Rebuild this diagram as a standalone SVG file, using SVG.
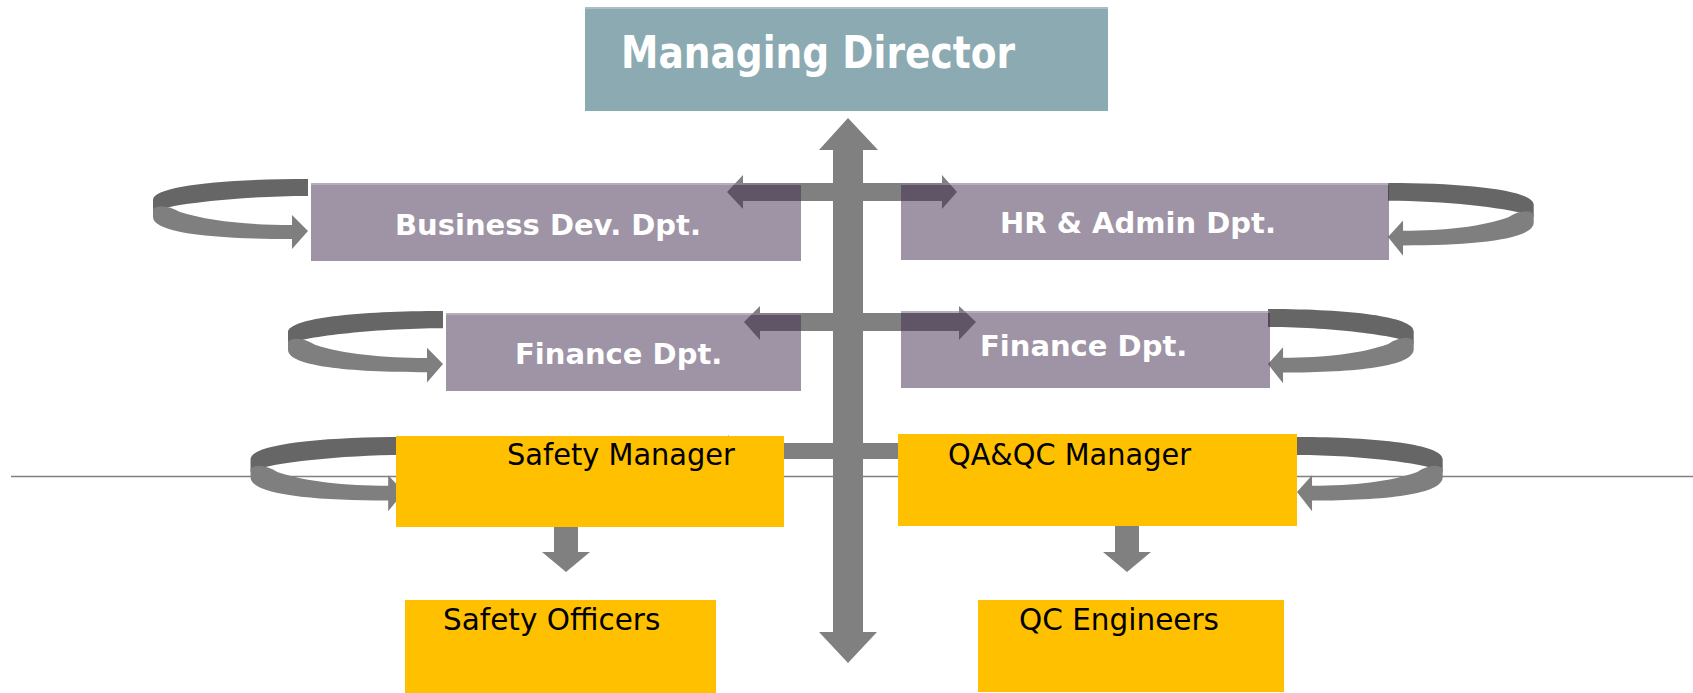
<svg xmlns="http://www.w3.org/2000/svg" xmlns:xlink="http://www.w3.org/1999/xlink" width="1693" height="693" viewBox="0 0 1693 693">
<style>
.purple{fill:#3d294b;fill-opacity:0.5}
.teal{fill:#8caab2}
.yellow{fill:#ffc000}
.topline{stroke:#ffffff;stroke-opacity:0.25;stroke-width:2}
.bar{fill:#808080}
.dark{fill:#666666}
.light{fill:#7f7f7f}
.tb{font-family:"DejaVu Sans","Liberation Sans",sans-serif;font-weight:bold;fill:#ffffff;font-size:29px}
.tmd{font-family:"DejaVu Sans Condensed","DejaVu Sans","Liberation Sans",sans-serif;font-weight:bold;fill:#ffffff;font-size:44px}
.tr{font-family:"DejaVu Sans","Liberation Sans",sans-serif;fill:#000000;font-size:29.5px}
</style>
<defs>
<g id="loopL">
<path class="dark" d="M0,0 C-85,0 -155,7 -155,21 L-155,33 C-145,26 -70,17 0,17 Z"/>
<path class="light" d="M-155,30 C-150,25 -138,27 -128,33 C-100,42 -60,46 -16,46 L-16,36 L0,52 L-16,70 L-16,60 C-95,60 -155,54 -155,38 Z"/>
</g>
</defs>
<rect x="0" y="0" width="1693" height="693" fill="#ffffff"/>
<g id="connectors">
<line x1="11" y1="476.5" x2="1693" y2="476.5" stroke="#808080" stroke-width="1.5"/>
<polygon class="bar" points="848,118 878,150 863,150 863,632 877,632 848,663 819,632 833,632 833,150 819,150"/>
<polygon class="bar" points="727,192 743,175 743,183 942,183 942,175 957,192 942,209 942,201 743,201 743,209"/>
<polygon class="bar" points="744,322 760,306 760,313 959,313 959,306 976,322 959,340 959,331 760,331 760,340"/>
<polygon class="bar" points="713,451 729,435 729,443 960,443 960,435 975,451 960,467 960,459 729,459 729,467"/>
<polygon class="bar" points="554,520 578,520 578,552 590,552 566,572 542,552 554,552"/>
<polygon class="bar" points="1115,520 1139,520 1139,552 1151,552 1127,572 1103,552 1115,552"/>
<use xlink:href="#loopL" href="#loopL" transform="translate(308,179)"/>
<use xlink:href="#loopL" href="#loopL" transform="translate(443,311) scale(1,1.02)"/>
<use xlink:href="#loopL" href="#loopL" transform="translate(404,437) scale(0.99,1.06)"/>
<use xlink:href="#loopL" href="#loopL" transform="translate(1388,183) scale(-0.94,1.04)"/>
<use xlink:href="#loopL" href="#loopL" transform="translate(1268,309) scale(-0.94,1.06)"/>
<use xlink:href="#loopL" href="#loopL" transform="translate(1297,437) scale(-0.94,1.06)"/>
</g>
<g id="md">
<rect class="teal" x="585" y="7" width="523" height="104"/>
<line class="topline" x1="585" y1="8" x2="1108" y2="8"/>
<text class="tmd" x="621" y="68" textLength="394" lengthAdjust="spacingAndGlyphs">Managing Director</text>
</g>
<g id="bizdev">
<rect class="purple" x="311" y="183" width="490" height="78"/>
<line class="topline" x1="311" y1="184" x2="801" y2="184"/>
<text class="tb" x="395" y="235">Business Dev. Dpt.</text>
</g>
<g id="hr">
<rect class="purple" x="901" y="183" width="488" height="77"/>
<line class="topline" x1="901" y1="184" x2="1389" y2="184"/>
<text class="tb" x="1000" y="233">HR &amp; Admin Dpt.</text>
</g>
<g id="financeL">
<rect class="purple" x="446" y="313" width="355" height="78"/>
<line class="topline" x1="446" y1="314" x2="801" y2="314"/>
<text class="tb" x="515" y="364">Finance Dpt.</text>
</g>
<g id="financeR">
<rect class="purple" x="901" y="311" width="369" height="77"/>
<line class="topline" x1="901" y1="312" x2="1270" y2="312"/>
<text class="tb" x="980" y="356">Finance Dpt.</text>
</g>
<g id="safetyMgr">
<rect class="yellow" x="396" y="436" width="388" height="91"/>
<text class="tr" x="507" y="465" textLength="228" lengthAdjust="spacingAndGlyphs">Safety Manager</text>
</g>
<g id="qaqc">
<rect class="yellow" x="898" y="434" width="399" height="92"/>
<text class="tr" x="948" y="465" textLength="243" lengthAdjust="spacingAndGlyphs">QA&amp;QC Manager</text>
</g>
<g id="safetyOff">
<rect class="yellow" x="405" y="600" width="311" height="93"/>
<text class="tr" x="443" y="630">Safety Officers</text>
</g>
<g id="qcEng">
<rect class="yellow" x="978" y="600" width="306" height="92"/>
<text class="tr" x="1019" y="630">QC Engineers</text>
</g>
</svg>
